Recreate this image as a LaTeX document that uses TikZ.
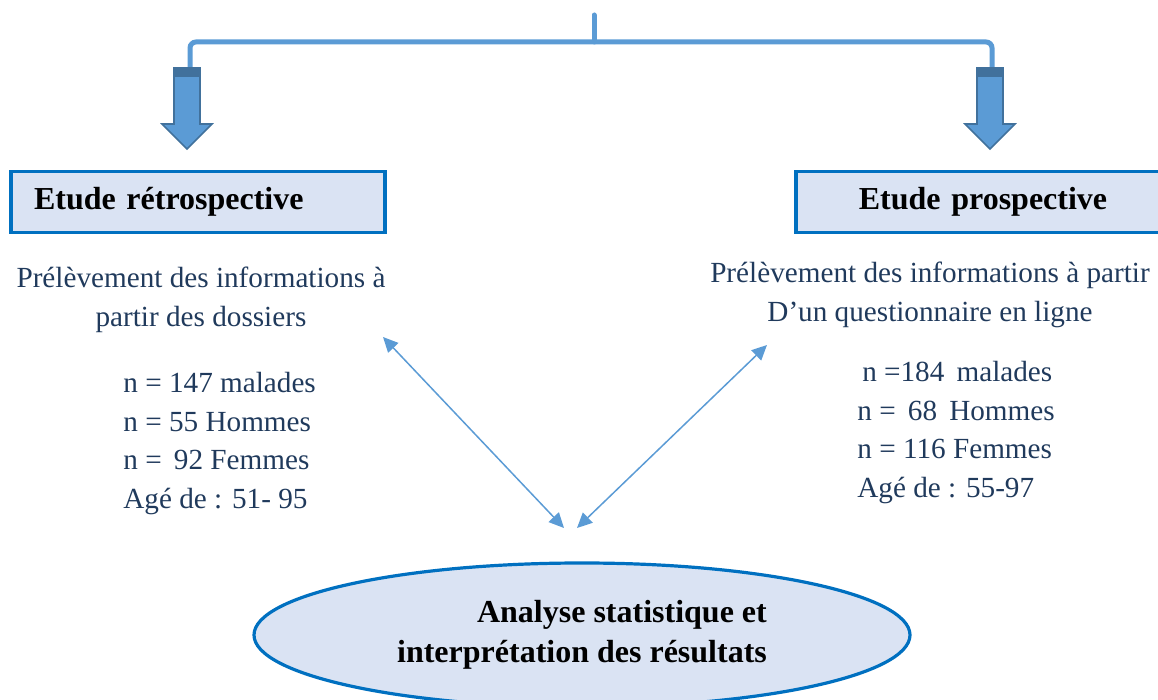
\documentclass[tikz,border=0pt]{standalone}
\usepackage{fontspec}
\setmainfont{Liberation Serif}
\usepackage{tikz}
\usetikzlibrary{positioning,arrows.meta,shapes.geometric}
\definecolor{flowblue}{HTML}{5B9BD5}
\definecolor{flowdark}{HTML}{41719C}
\definecolor{frameblue}{HTML}{0070C0}
\definecolor{paleblue}{HTML}{DAE3F3}
\definecolor{inkblue}{HTML}{203A5C}
\tikzset{
study/.style={
draw=frameblue,
line width=1.6pt,
fill=paleblue,
minimum height=30.5pt,
text width=164pt,
inner xsep=11.5pt,
inner ysep=0pt,
font=\fontsize{16}{19}\selectfont\bfseries
},
info/.style={
text=inkblue,
inner sep=0pt,
font=\fontsize{14.6}{19.3}\selectfont
},
link/.style={
{Triangle[length=7.5pt,width=7pt]}-{Triangle[length=7.5pt,width=7pt]},
draw=flowblue,
line width=0.75pt
},
bracket/.style={
draw=flowblue,
line width=2.5pt,
rounded corners=3pt
}
}

\begin{document}
\begin{tikzpicture}[x=0.5pt,y=-0.5pt]

\useasboundingbox (0,0) rectangle (1158,700);

% fork at the top
\coordinate (root) at (594,15);
\coordinate (split) at (594,42);
\coordinate (lfork) at (190,68);
\coordinate (rfork) at (992,68);

\draw[bracket,line cap=round] (root)--(split);
\draw[bracket] (lfork) |- (split) -| (rfork);

% block arrows
\foreach \cx in {187,990}{
\filldraw[fill=flowblue,draw=flowdark,line width=0.8pt]
(\cx-13,68)--(\cx+13,68)--(\cx+13,124)--(\cx+25,124)--(\cx,149)
--(\cx-25,124)--(\cx-13,124)--cycle;
\fill[flowdark] (\cx-13,68) rectangle (\cx+13,77);
}

\node[study,align=left](retro) at (198,202){Etude rétrospective};

\node[study,align=center](prosp) at (983,202){Etude prospective};

\node[info,align=center,anchor=north](leftinfo) at (201,267){Prélèvement des informations à\\partir des dossiers};

\node[info,align=left,anchor=north west](leftstats) at (123,372){n = 147 malades\\n = 55 Hommes\\n = \,92 Femmes\\Agé de : 51- 95};

\node[info,align=center,anchor=north](rightinfo) at (930,262){Prélèvement des informations à partir\\D’un questionnaire en ligne};

\node[info,align=left,anchor=north west](rightstats) at (857,361){\,n =184 \,malades\\n = \,68 \,Hommes\\n = 116 Femmes\\Agé de : 55-97};

\node[ellipse,draw=frameblue,line width=1.6pt,fill=paleblue,
minimum width=328pt,minimum height=72pt,inner sep=0pt,align=right,
font=\fontsize{16}{20}\selectfont\bfseries](analyse) at (582,635){Analyse statistique et\\interprétation des résultats};

% links to the analysis
\coordinate (lup) at (383,337);
\coordinate (ldown) at (564,528);
\coordinate (rup) at (767,345);
\coordinate (rdown) at (577,528);

\foreach \x/\y in {lup/ldown,rup/rdown}
\draw[link](\x)--(\y);

\end{tikzpicture}
\end{document}
